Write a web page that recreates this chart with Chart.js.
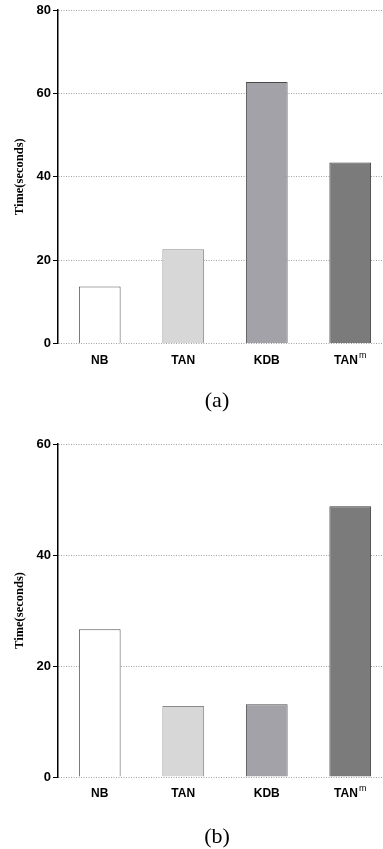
<!DOCTYPE html>
<html>
<head>
<meta charset="utf-8">
<script src="https://cdn.jsdelivr.net/npm/chart.js@4.4.0/dist/chart.umd.min.js"></script>
<style>
  html, body { margin: 0; padding: 0; background: #fff; overflow: hidden; width: 383px; height: 849px; }
  .box { position: absolute; left: 0; width: 392px; }
  #boxA { top: 0; height: 420px; }
  #boxB { top: 433px; height: 419px; }
</style>
</head>
<body>
<div class="box" id="boxA"><canvas id="chartA"></canvas></div>
<div class="box" id="boxB"><canvas id="chartB"></canvas></div>
<script>
// categories and values
const categories = ["NB", "TAN", "KDB", "TAN"];
const superscripts = ["", "", "", "m"];
const timesA = [13.7, 22.6, 62.7, 43.4];
const timesB = [26.6, 12.8, 13.1, 48.8];
const ticksA = { max: 80, step: 20 };
const ticksB = { max: 60, step: 20 };

const fills = ["#ffffff", "#d7d7d7", "#a2a2a8", "#7b7b7b"];
const edges = ["#555555", "#8a8a8a", "#4a4a4a", "#3a3a3a"];

const labelFont = "bold 12px 'Liberation Sans', Arial, sans-serif";
const supFont = "9px 'Liberation Sans', Arial, sans-serif";
const captionFont = "22px 'Liberation Serif', serif";

// draws the category names under the bars, with the superscript on TAN^m,
// and the (a)/(b) caption under the panel
const categoryLabels = {
    id: "categoryLabels",
    afterDraw(chart, args, opts) {
        const ctx = chart.ctx;
        const xs = chart.scales.x;
        const y = chart.chartArea.bottom + 16;
        ctx.save();
        ctx.fillStyle = "#000";
        ctx.textBaseline = "alphabetic";
        categories.forEach(function (name, i) {
            const cx = xs.getPixelForTick(i);
            ctx.font = labelFont;
            const w = ctx.measureText(name).width;
            ctx.font = supFont;
            const ws = superscripts[i] ? ctx.measureText(superscripts[i]).width + 1 : 0;
            const left = cx - (w + ws) / 2;
            ctx.font = labelFont;
            ctx.textAlign = "left";
            ctx.fillText(name, left, y + 4);
            if (superscripts[i]) {
                ctx.font = supFont;
                ctx.fillText(superscripts[i], left + w + 1, y - 2);
            }
        });
        if (opts.caption) {
            ctx.font = captionFont;
            ctx.textAlign = "center";
            ctx.textBaseline = "middle";
            ctx.fillText(opts.caption, 217, chart.chartArea.bottom + opts.captionGap);
        }
        ctx.restore();
    }
};

function makeChart(key, values, yTicks, caption, padTop, padBottom, captionGap) {
    const ctx = document.getElementById(key);
    return new Chart(ctx, {
        type: "bar",
        data: {
            labels: categories.map(function (c, i) { return c + superscripts[i]; }),
            datasets: [{
                data: values,
                backgroundColor: fills,
                borderColor: edges,
                borderWidth: 1,
                barPercentage: 0.5,
                categoryPercentage: 1.0
            }]
        },
        options: {
            responsive: true,
            maintainAspectRatio: false,
            animation: false,
            layout: { padding: { top: padTop, right: 0, left: 0, bottom: padBottom } },
            plugins: {
                legend: { display: false },
                tooltip: { enabled: false },
                categoryLabels: { caption: caption, captionGap: captionGap }
            },
            scales: {
                x: {
                    grid: { display: false },
                    border: { display: false },
                    ticks: { display: false },
                    afterFit: function (scale) { scale.height = 24; }
                },
                y: {
                    min: 0,
                    max: yTicks.max,
                    afterFit: function (scale) { scale.width = 58; },
                    ticks: {
                        stepSize: yTicks.step,
                        color: "#000",
                        padding: 2,
                        font: { family: "'Liberation Sans', Arial, sans-serif", size: 13, weight: "bold" }
                    },
                    grid: {
                        color: "#a0a0a0",
                        lineWidth: 1,
                        tickColor: "#000",
                        tickLength: 5,
                        tickWidth: 1
                    },
                    border: { display: true, color: "#000", width: 1.5, dash: [1, 1.5] },
                    title: {
                        display: true,
                        text: "Time(seconds)",
                        color: "#000",
                        padding: { top: 12, bottom: 0 },
                        font: { family: "'Liberation Serif', serif", size: 12.5, weight: "bold" }
                    }
                }
            }
        },
        plugins: [categoryLabels]
    });
}

makeChart("chartA", timesA, ticksA, "(a)", 10, 52.5, 58);
makeChart("chartB", timesB, ticksB, "(b)", 11, 51, 60);
</script>
</body>
</html>
